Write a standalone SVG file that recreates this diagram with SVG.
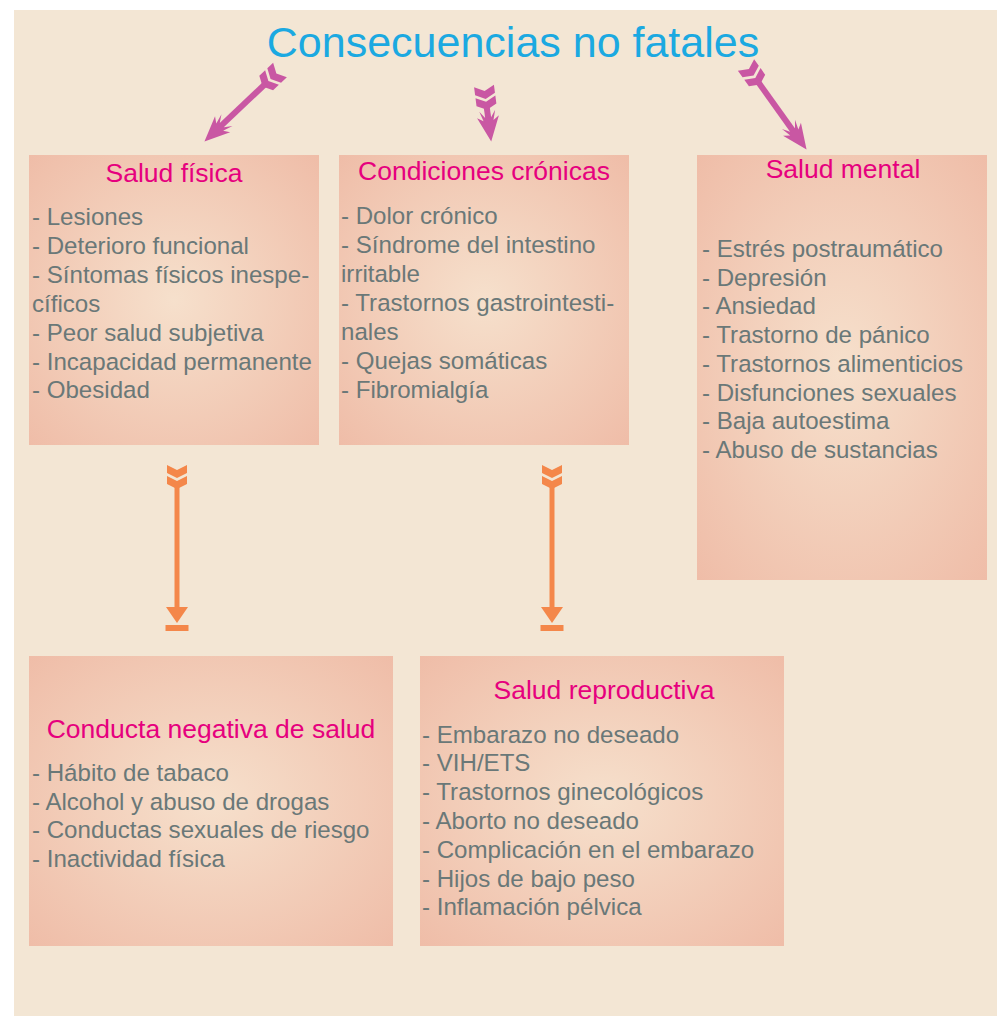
<svg xmlns="http://www.w3.org/2000/svg" width="997" height="1016" viewBox="0 0 997 1016">
<defs>
<radialGradient id="bx" cx="0.5" cy="0.5" r="0.72">
<stop offset="0" stop-color="#f6e0cc"/>
<stop offset="1" stop-color="#efbca7"/>
</radialGradient>
<g id="pf">
<polygon points="-10,0 0,5 10,0 10,8 0,13 -10,8"/>
<polygon points="-10,11 0,16 10,11 10,19 0,24 -10,19"/>
</g>
</defs>
<style>
.box{fill:url(#bx)}
.hd{font-family:"Liberation Sans",Arial,sans-serif;font-size:26.5px;fill:#e6007e;text-anchor:middle}
.tx{font-family:"Liberation Sans",Arial,sans-serif;font-size:24.1px;fill:#6a7878}
.pk{fill:#c957a3}
.og{fill:#f4874a}
</style>
<rect x="0" y="0" width="997" height="1016" fill="#ffffff"/>
<rect x="14" y="10" width="983" height="1006" fill="#f3e6d4"/>
<text x="513" y="57" font-family="'Liberation Sans',Arial,sans-serif" font-size="43" fill="#1ba9e1" text-anchor="middle">Consecuencias no fatales</text>
<g id="connectors">
<g class="pk" transform="translate(280,70) rotate(46.6)">
<use href="#pf"/>
<rect x="-3" y="20" width="6" height="62"/>
<polygon points="0,104 -11,79 -5,83 -8,73 -3,80 3,80 8,73 5,83 11,79"/>
</g>
<g class="pk" transform="translate(484,86) rotate(-7.4)">
<use href="#pf"/>
<rect x="-3" y="20" width="6" height="14"/>
<polygon points="0,56 -11,31 -5,35 -8,25 -3,32 3,32 8,25 5,35 11,31"/>
</g>
<g class="pk" transform="translate(746,65) rotate(-35.6)">
<use href="#pf"/>
<rect x="-3" y="20" width="6" height="62"/>
<polygon points="0,104 -11,79 -5,83 -8,73 -3,80 3,80 8,73 5,83 11,79"/>
</g>
<g class="og" transform="translate(177,465)">
<polygon points="-10,0 0,5 10,0 10,8 0,13 -10,8"/>
<polygon points="-10,11 0,16 10,11 10,19 0,24 -10,19"/>
<rect x="-2.5" y="20" width="5" height="125"/>
<polygon points="-11,142 11,142 0,158"/>
<rect x="-11.5" y="160" width="23" height="6"/>
</g>
<g class="og" transform="translate(552,465)">
<polygon points="-10,0 0,5 10,0 10,8 0,13 -10,8"/>
<polygon points="-10,11 0,16 10,11 10,19 0,24 -10,19"/>
<rect x="-2.5" y="20" width="5" height="125"/>
<polygon points="-11,142 11,142 0,158"/>
<rect x="-11.5" y="160" width="23" height="6"/>
</g>
</g>
<g id="salud-fisica">
<rect class="box" x="29" y="155" width="290" height="290"/>
<text class="hd" x="174" y="182">Salud física</text>
<text class="tx" x="32" y="225">- Lesiones</text>
<text class="tx" x="32" y="254">- Deterioro funcional</text>
<text class="tx" x="32" y="283">- Síntomas físicos inespe-</text>
<text class="tx" x="32" y="312">cíficos</text>
<text class="tx" x="32" y="341">- Peor salud subjetiva</text>
<text class="tx" x="32" y="370">- Incapacidad permanente</text>
<text class="tx" x="32" y="398">- Obesidad</text>
</g>
<g id="condiciones-cronicas">
<rect class="box" x="339" y="155" width="290" height="290"/>
<text class="hd" x="484" y="180">Condiciones crónicas</text>
<text class="tx" x="341" y="224">- Dolor crónico</text>
<text class="tx" x="341" y="253">- Síndrome del intestino</text>
<text class="tx" x="341" y="282">irritable</text>
<text class="tx" x="341" y="311">- Trastornos gastrointesti-</text>
<text class="tx" x="341" y="340">nales</text>
<text class="tx" x="341" y="369">- Quejas somáticas</text>
<text class="tx" x="341" y="398">- Fibromialgía</text>
</g>
<g id="salud-mental">
<rect class="box" x="697" y="155" width="290" height="425"/>
<text class="hd" x="843" y="178">Salud mental</text>
<text class="tx" x="702" y="257">- Estrés postraumático</text>
<text class="tx" x="702" y="286">- Depresión</text>
<text class="tx" x="702" y="314">- Ansiedad</text>
<text class="tx" x="702" y="343">- Trastorno de pánico</text>
<text class="tx" x="702" y="372">- Trastornos alimenticios</text>
<text class="tx" x="702" y="401">- Disfunciones sexuales</text>
<text class="tx" x="702" y="429">- Baja autoestima</text>
<text class="tx" x="702" y="458">- Abuso de sustancias</text>
</g>
<g id="conducta-negativa">
<rect class="box" x="29" y="656" width="364" height="290"/>
<text class="hd" x="211" y="738">Conducta negativa de salud</text>
<text class="tx" x="32" y="781">- Hábito de tabaco</text>
<text class="tx" x="32" y="810">- Alcohol y abuso de drogas</text>
<text class="tx" x="32" y="838">- Conductas sexuales de riesgo</text>
<text class="tx" x="32" y="867">- Inactividad física</text>
</g>
<g id="salud-reproductiva">
<rect class="box" x="420" y="656" width="364" height="290"/>
<text class="hd" x="604" y="699">Salud reproductiva</text>
<text class="tx" x="422" y="743">- Embarazo no deseado</text>
<text class="tx" x="422" y="771">- VIH/ETS</text>
<text class="tx" x="422" y="800">- Trastornos ginecológicos</text>
<text class="tx" x="422" y="829">- Aborto no deseado</text>
<text class="tx" x="422" y="858">- Complicación en el embarazo</text>
<text class="tx" x="422" y="887">- Hijos de bajo peso</text>
<text class="tx" x="422" y="915">- Inflamación pélvica</text>
</g>
</svg>
